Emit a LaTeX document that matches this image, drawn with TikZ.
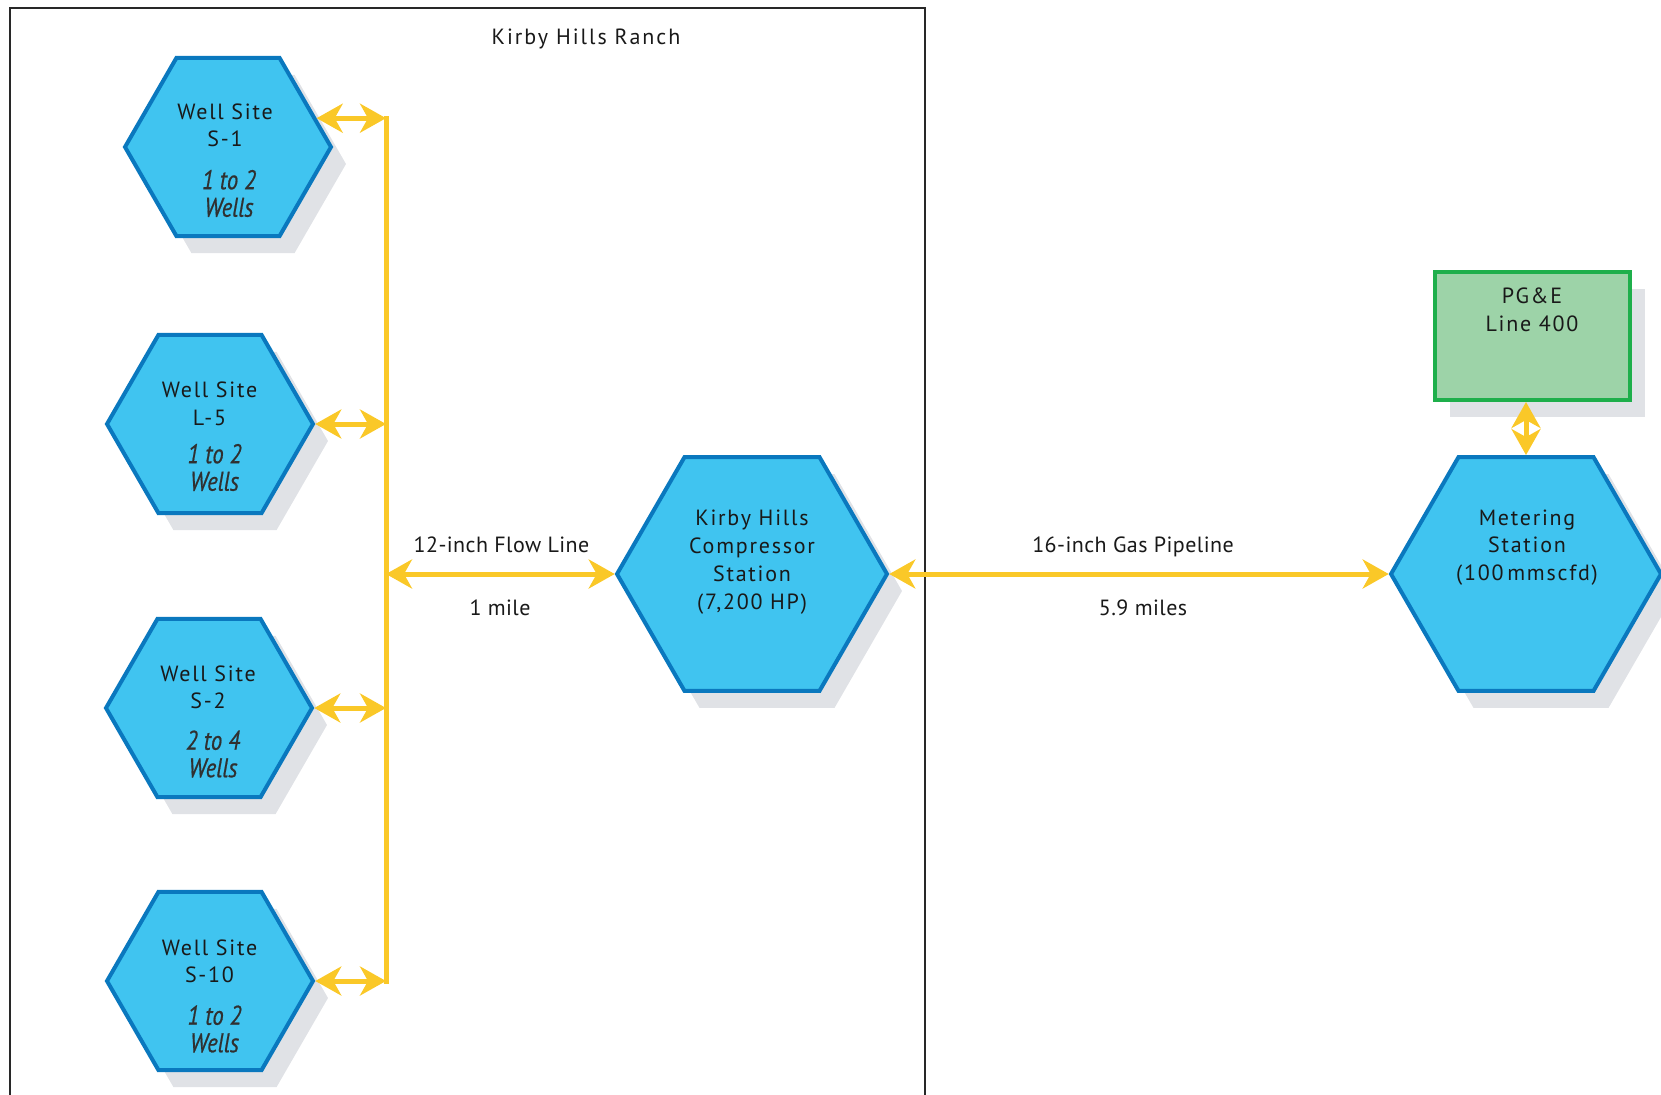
\documentclass[tikz,border=0pt]{standalone}
\usepackage{fontspec}
\setmainfont{PT Sans}[LetterSpace=2]
\newfontfamily\widefont{PT Sans}[LetterSpace=8]
\newfontfamily\titlefont{PT Sans}[LetterSpace=9]
\newfontfamily\plainfont{PT Sans}
\newfontfamily\condfont{PT Sans}[FakeStretch=0.84, FakeBold=0.6]
\usetikzlibrary{shapes.geometric,arrows.meta,shadows}
\definecolor{hexfill}{RGB}{64,196,240}
\definecolor{hexdraw}{RGB}{10,120,190}
\definecolor{flowyellow}{RGB}{250,200,40}
\definecolor{pgefill}{RGB}{157,211,168}
\definecolor{pgedraw}{RGB}{30,175,75}
\definecolor{shadowgray}{RGB}{224,226,230}
\definecolor{txt}{RGB}{25,25,25}
\definecolor{framecol}{RGB}{40,40,40}
\tikzset{
  sh/.style={drop shadow={shadow xshift=15pt, shadow yshift=-17pt, fill=shadowgray, opacity=1}},
  hexa/.style={regular polygon, regular polygon sides=6,
    draw=hexdraw, fill=hexfill, line width=4pt, inner sep=0pt, sh},
  wellhex/.style={hexa, minimum size=206pt},
  bighex/.style={hexa, minimum size=270pt},
  pgebox/.style={rectangle, draw=pgedraw, fill=pgefill, line width=4pt,
    minimum width=195pt, minimum height=128pt, inner sep=0pt, sh},
  lbl/.style={font=\fontsize{22}{27.5}\selectfont, text=txt, align=center, inner sep=0pt},
  hexlbl/.style={font=\widefont\fontsize{22}{27.5}\selectfont, text=txt, align=center, inner sep=0pt},
  itl/.style={font=\condfont\itshape\fontsize{27}{27.5}\selectfont, text=txt!90, align=center, inner sep=0pt},
  flow/.style={draw=flowyellow, line width=5pt},
  biarrow/.style={flow, {Stealth[length=26pt,width=29pt,inset=8pt]}-{Stealth[length=26pt,width=29pt,inset=8pt]}},
  frameline/.style={draw=framecol, line width=2.5pt},
}
\begin{document}
\begin{tikzpicture}[x=1pt,y=-1pt]
\useasboundingbox (0,0) rectangle (1661,1094);
% frame
\draw[frameline] (10,1110) -- (10,8) -- (925,8) -- (925,1110);
\node[lbl, font=\titlefont\fontsize{22}{27.5}\selectfont] (title) at (586,39) {Kirby Hills Ranch};

% well sites
\node[wellhex] (s1) at (228,147) {};
\node[wellhex] (l5) at (210,424) {};
\node[wellhex] (s2) at (209,708) {};
\node[wellhex] (s10) at (210,981) {};

\node[hexlbl] (s1a) at (225,125.5) {Well Site\\S-1};
\node[itl] (s1b) at (229,193.5) {1 to 2\\Wells};
\node[hexlbl] (l5a) at (209.5,404) {Well Site\\L-5};
\node[itl] (l5b) at (214.5,467.5) {1 to 2\\Wells};
\node[hexlbl] (s2a) at (208,687.5) {Well Site\\S-2};
\node[itl] (s2b) at (213,754) {2 to 4\\Wells};
\node[hexlbl] (s10a) at (209.5,961.5) {Well Site\\S-10};
\node[itl] (s10b) at (214.5,1029) {1 to 2\\Wells};

% compressor and metering
\node[bighex] (comp) at (752,574) {};
\node[hexlbl, font=\widefont\fontsize{22}{28}\selectfont] (compt) at (752,562.5) {Kirby Hills\\Compressor\\Station\\(7,200 HP)};
\node[bighex] (meter) at (1526,574) {};
\node[hexlbl] (metert) at (1527,547.5) {Metering\\Station\\(100\,mmscfd)};

% PG&E
\node[pgebox] (pge) at (1532.5,336) {};
\node[hexlbl] (pget) at (1532,310) {PG\&E\\Line 400};

% connectors
\coordinate (trunk) at (386,0);
\draw[biarrow] (s1.18.6) -- (s1.18.6 -| trunk) coordinate (j1);
\draw[biarrow] (l5.0) -- (l5.0 -| trunk);
\draw[biarrow] (s2.0) -- (s2.0 -| trunk);
\draw[biarrow] (s10.0) -- (s10.0 -| trunk) coordinate (j4);
\draw[flow, line cap=rect] (j1) -- (j4);
\draw[biarrow] (comp.180 -| trunk) -- (comp.180);
\draw[biarrow] (comp.0) -- (meter.180);
\draw[biarrow] (meter.90) -- (meter.90 |- pge.south);

% edge labels
\node[lbl] (fl1) at (501.5,545) {12-inch Flow Line};
\node[lbl] (fl2) at (500,608) {1 mile};
\node[lbl] (gp1) at (1133,547) {16-inch Gas Pipeline};
\node[lbl] (gp2) at (1143,608) {5.9 miles};
\end{tikzpicture}
\end{document}
